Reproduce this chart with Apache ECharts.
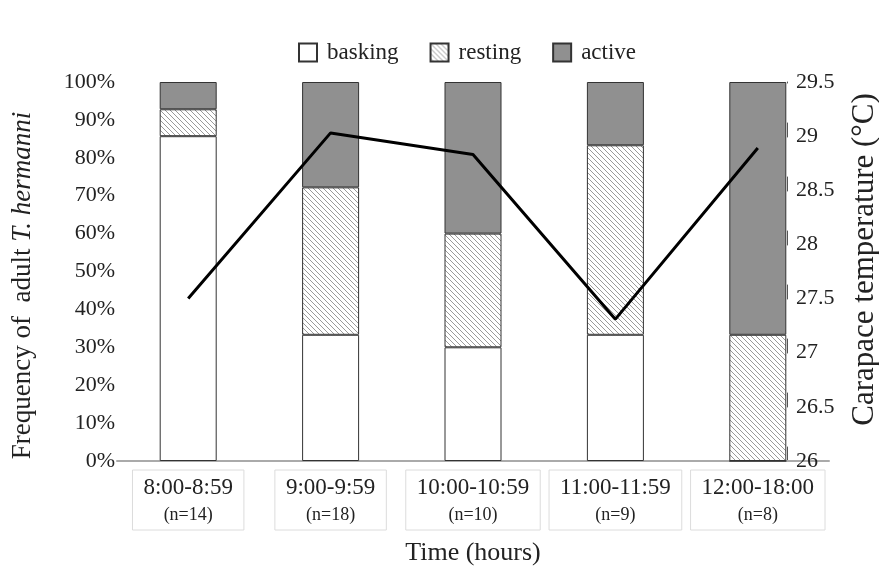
<!DOCTYPE html>
<html>
<head>
<meta charset="utf-8">
<script src="https://cdn.jsdelivr.net/npm/echarts@6/dist/echarts.min.js"></script>
<style>
  html, body { margin: 0; padding: 0; background: #fff; }
  #chart { width: 879px; height: 567px; }
</style>
</head>
<body>
<div id="chart"></div>
<script>
var hours = ['8:00-8:59', '9:00-9:59', '10:00-10:59', '11:00-11:59', '12:00-18:00'];
var counts = [14, 18, 10, 9, 8];
var basking = [85.7, 33.3, 30.0, 33.3, 0];
var resting = [7.1, 38.9, 30.0, 50.0, 33.3];
var active = [7.2, 27.8, 40.0, 16.7, 66.7];
var temperature = [27.5, 29.03, 28.83, 27.31, 28.89];

// hatch for "resting"
function hatch() {
	var c = document.createElement('canvas');
	c.width = 5; c.height = 5;
	var g = c.getContext('2d');
	g.fillStyle = '#fff';
	g.fillRect(0, 0, 5, 5);
	g.strokeStyle = '#9a9a9a';
	g.lineWidth = 1;
	g.beginPath();
	g.moveTo(-1, -1); g.lineTo(6, 6);
	g.moveTo(-1, 4); g.lineTo(1, 6);
	g.moveTo(4, -1); g.lineTo(6, 1);
	g.stroke();
	return { image: c, repeat: 'repeat' };
}

var font = 'Liberation Serif';
var chart = echarts.init(document.getElementById('chart'));

var option = {
	textStyle: { fontFamily: font, color: '#222' },
	legend: {
		left: 293,
		top: 36,
		itemWidth: 18,
		itemHeight: 18,
		itemGap: 31,
		icon: 'rect',
		data: ['basking', 'resting', 'active'],
		textStyle: { fontFamily: font, fontSize: 23, color: '#222', padding: [0, 0, 0, 5] }
	},
	grid: { left: 117, right: 50, top: 82, bottom: 106, outerBoundsMode: 'none', containLabel: false },
	xAxis: {
		type: 'category',
		data: hours,
		name: 'Time (hours)',
		nameLocation: 'middle',
		nameGap: 79,
		nameTextStyle: { fontFamily: font, fontSize: 26, color: '#222' },
		axisLine: { lineStyle: { color: '#aaa', width: 2 } },
		axisTick: { show: false },
		axisLabel: {
			margin: 9,
			interval: 0,
			padding: [5, 11, 1, 11],
			borderColor: '#dcdcdc',
			borderWidth: 1,
			formatter: function (v, i) {
				return '{a|' + v + '}\n{b|(n=' + counts[i] + ')}';
			},
			rich: {
				a: { fontFamily: font, fontSize: 23, color: '#222', lineHeight: 26 },
				b: { fontFamily: font, fontSize: 18, color: '#222', lineHeight: 28 }
			}
		}
	},
	yAxis: [
		{
			type: 'value',
			min: 0,
			max: 100,
			interval: 10,
			name: '{n|Frequency of  adult }{i|T. hermanni}',
			nameLocation: 'middle',
			nameGap: 81,
			nameRotate: 90,
			nameTextStyle: {
				padding: [0, 28, 0, 0],
				rich: {
					n: { fontFamily: font, fontSize: 27, color: '#222' },
					i: { fontFamily: font, fontSize: 27, color: '#222', fontStyle: 'italic' }
				}
			},
			axisLine: { show: false },
			axisTick: { show: false },
			splitLine: { show: false },
			axisLabel: { margin: 2, fontFamily: font, fontSize: 22, color: '#222', formatter: '{value}%' }
		},
		{
			type: 'value',
			position: 'right',
			offset: -42,
			min: 26,
			max: 29.5,
			interval: 0.5,
			name: 'Carapace temperature (°C)',
			nameLocation: 'middle',
			nameGap: 62,
			nameRotate: 90,
			nameTextStyle: { fontFamily: font, fontSize: 31, color: '#222', padding: [0, 0, 0, 24] },
			axisLine: { show: true, lineStyle: { color: '#555', type: [14, 40], width: 1 } },
			axisTick: { show: false },
			splitLine: { show: false },
			axisLabel: {
				margin: 9, fontFamily: font, fontSize: 22, color: '#222',
				formatter: function (v) { return String(+v.toFixed(1)); }
			}
		}
	],
	series: [
		{
			name: 'basking', type: 'bar', stack: 'f', barWidth: 57, data: basking,
			itemStyle: { color: '#fff', borderColor: '#333', borderWidth: 1 }
		},
		{
			name: 'resting', type: 'bar', stack: 'f', barWidth: 57, data: resting,
			itemStyle: { color: hatch(), borderColor: '#333', borderWidth: 1 }
		},
		{
			name: 'active', type: 'bar', stack: 'f', barWidth: 57, data: active,
			itemStyle: { color: '#909090', borderColor: '#333', borderWidth: 1 }
		},
		{
			name: 'temperature', type: 'line', yAxisIndex: 1, data: temperature,
			symbol: 'none', z: 5,
			lineStyle: { color: '#000', width: 3 }
		}
	]
};

chart.setOption(option);
</script>
</body>
</html>
